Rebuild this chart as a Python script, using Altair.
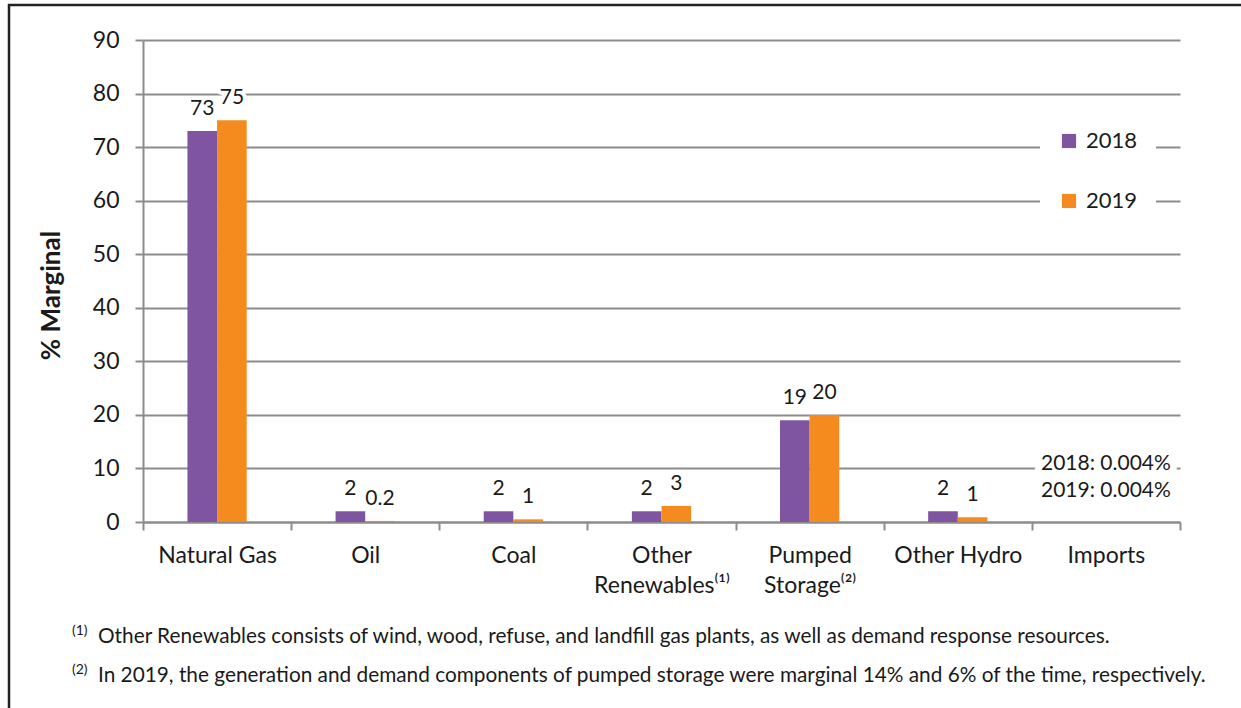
import altair as alt
import pandas as pd

# ---- data ----
categories = ["Natural Gas", "Oil", "Coal", "Other|Renewables⁽¹⁾", "Pumped|Storage⁽²⁾", "Other Hydro", "Imports"]
years = ["2018", "2019"]
values_2018 = [73, 2, 2, 2, 19, 2, 0.004]
values_2019 = [75, 0.2, 0.5, 3, 20, 0.9, 0.004]
labels_2018 = ["73", "2", "2", "2", "19", "2", ""]
labels_2019 = ["75", "0.2", "1", "3", "20", "1", ""]
imports_note = "2018:  0.004%\n2019:  0.004%"
footnote_marks = ["(1)", "(2)"]
footnotes = [
    "Other Renewables consists of wind, wood, refuse, and landfill gas plants, as well as demand response resources.",
    "In 2019, the generation and demand components of pumped storage were marginal 14% and 6% of the time, respectively.",
]
y_ticks = [0, 10, 20, 30, 40, 50, 60, 70, 80, 90]

PURPLE = "#7F54A0"
ORANGE = "#F58A1F"
GRID = "#8C8C8C"
TXT = "#1A1A1A"
FONT = "Lato"

rows = []
for i, c in enumerate(categories):
    rows.append({"cat": c, "year": "2018", "value": values_2018[i], "label": labels_2018[i]})
    rows.append({"cat": c, "year": "2019", "value": values_2019[i], "label": labels_2019[i]})
df = pd.DataFrame(rows)

x_enc = alt.X(
    "cat:N", sort=categories,
    scale=alt.Scale(paddingInner=0, paddingOuter=0),
    axis=alt.Axis(
        title=None, labelAngle=0, grid=False, tickBand="extent",
        domainColor=GRID, domainWidth=2, tickColor=GRID, tickWidth=2, tickSize=8,
        labelFontSize=23, labelFont=FONT, labelColor=TXT, labelPadding=14,
        labelLineHeight=30, labelBaseline="top",
        labelExpr="split(datum.label, '|')",
    ),
)
# two empty slots either side keep the bar pair narrow and centred in each band
xoff_enc = alt.XOffset(
    "year:N",
    scale=alt.Scale(domain=["_a"] + years + ["_b"], paddingInner=0, paddingOuter=0.5),
)
y_enc = alt.Y(
    "value:Q",
    scale=alt.Scale(domain=[0, 90], nice=False),
    axis=alt.Axis(
        values=y_ticks, title="% Marginal", grid=True, gridColor=GRID, gridWidth=2,
        domainColor=GRID, domainWidth=2, tickColor=GRID, tickWidth=2, tickSize=8,
        labelFontSize=23, labelFont=FONT, labelColor=TXT, labelPadding=16,
        titleFontSize=26, titleFont=FONT, titleFontWeight="bold", titleColor=TXT,
        titleX=-92, titleY=255, titleAngle=270, titleBaseline="middle", titleAlign="center",
    ),
)

base = alt.Chart(df).encode(x=x_enc, xOffset=xoff_enc, y=y_enc)

bars = base.mark_bar().encode(
    color=alt.Color(
        "year:N", sort=years,
        scale=alt.Scale(domain=years, range=[PURPLE, ORANGE]),
        legend=alt.Legend(
            title=None, orient="none", legendX=897, legendY=72,
            fillColor="white", padding=18, symbolType="square", symbolSize=200,
            symbolStrokeWidth=0, labelFontSize=22, labelFont=FONT, labelColor=TXT,
            rowPadding=38, labelOffset=6,
        ),
    )
)

halo = base.mark_text(
    dy=-12, baseline="bottom", fontSize=21, font=FONT, color="white",
    stroke="white", strokeWidth=8,
).encode(text="label:N")
labels = base.mark_text(
    dy=-12, baseline="bottom", fontSize=21, font=FONT, color=TXT,
).encode(text="label:N")

imp_df = pd.DataFrame({"cat": ["Imports"], "note": [imports_note]})
imp_halo = alt.Chart(imp_df).mark_text(
    baseline="top", fontSize=21, font=FONT, lineBreak="\n", lineHeight=27,
    color="white", stroke="white", strokeWidth=14,
).encode(x=alt.X("cat:N", sort=categories), y=alt.value(413), text="note:N")
imp_text = alt.Chart(imp_df).mark_text(
    baseline="top", fontSize=21, font=FONT, lineBreak="\n", lineHeight=27, color=TXT,
).encode(x=alt.X("cat:N", sort=categories), y=alt.value(413), text="note:N")

fn_layers = []
for i in range(len(footnotes)):
    fdf = pd.DataFrame({"m": [footnote_marks[i]], "t": [footnotes[i]]})
    yv = 597 + 39 * i
    fn_layers.append(
        alt.Chart(fdf).mark_text(align="left", baseline="middle", fontSize=14, font=FONT, color=TXT)
        .encode(x=alt.value(-71), y=alt.value(yv - 6), text="m:N")
    )
    fn_layers.append(
        alt.Chart(fdf).mark_text(align="left", baseline="middle", fontSize=20.8, font=FONT, color=TXT)
        .encode(x=alt.value(-45), y=alt.value(yv), text="t:N")
    )

border = alt.Chart(pd.DataFrame({"a": [0]})).mark_rect(
    filled=False, stroke="#222222", strokeWidth=2.5
).encode(x=alt.value(-134), x2=alt.value(1200), y=alt.value(-35), y2=alt.value(720))

chart = alt.layer(
    border, bars, halo, labels, imp_halo, imp_text, *fn_layers
).resolve_scale(x="shared").properties(
    width=1037, height=482,
    autosize=alt.AutoSizeParams(type="none"),
    padding={"left": 143, "top": 40, "right": 61, "bottom": 186},
    background="white",
).configure_view(stroke="transparent")

chart.save("out.html", embed_options={"renderer": "svg", "actions": False})
